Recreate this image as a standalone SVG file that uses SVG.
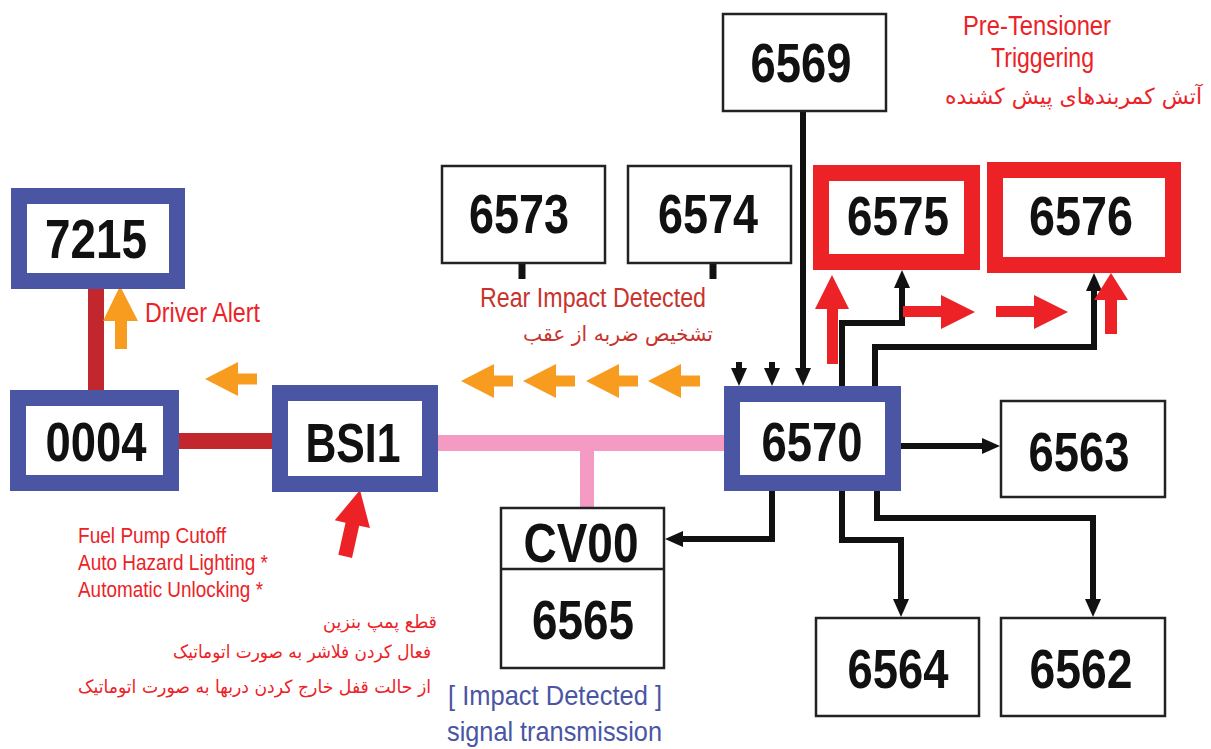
<svg xmlns="http://www.w3.org/2000/svg" width="1211" height="749" viewBox="0 0 1211 749">
<style>
.bg{fill:#fff}
.blue{fill:#fff;stroke:#4a55a4;stroke-width:16}
.redbox{fill:#fff;stroke:#ec2227;stroke-width:16}
.blk{fill:#fff;stroke:#222;stroke-width:2.5}
.num{font-family:"Liberation Sans",Arial,sans-serif;font-weight:bold;font-size:56px;fill:#111;text-anchor:middle}
.lbl{font-family:"Liberation Sans",Arial,sans-serif;font-size:27px}
.red{fill:#ec2227}
.dred{fill:#c9332d}
.bluet{fill:#4a55a4}
.fa{font-family:"DejaVu Sans","Noto Sans",sans-serif;font-size:21px;text-anchor:end}
.con{fill:none;stroke:#111;stroke-width:6}
.stub{fill:none;stroke:#111;stroke-width:7}
.bus{fill:none;stroke:#c1272d;stroke-width:16}
.pink{fill:none;stroke:#f49ac3;stroke-width:16}
.orange{fill:#f79c1e}
.rarrow{fill:#ec2227}
</style>
<defs>
<marker id="ah" viewBox="0 0 18 16" refX="2" refY="8" markerWidth="18" markerHeight="16" markerUnits="userSpaceOnUse" orient="auto">
<path d="M0,0 L18,8 L0,16 Z" fill="#111"/>
</marker>
<path id="oleft" d="M0,0 L33,-17 L33,-5.5 L52,-5.5 L52,5.5 L33,5.5 L33,17 Z"/>
</defs>
<rect class="bg" x="0" y="0" width="1211" height="749"/>

<g id="connectors">
<path class="bus" d="M96,289 V390"/>
<path class="bus" d="M179,441 H272"/>
<path class="pink" d="M438,443 H724"/>
<path class="pink" d="M587,443 V507" style="stroke-width:14"/>
<path class="stub" d="M522,264 V279"/>
<path class="stub" d="M713,264 V279"/>
<path class="con" d="M803,112 V370" marker-end="url(#ah)"/>
<path class="con" d="M739,362 V370" marker-end="url(#ah)"/>
<path class="con" d="M772,362 V370" marker-end="url(#ah)"/>
<path class="con" d="M842,386 V323 H902 V286" marker-end="url(#ah)"/>
<path class="con" d="M875,386 V347 H1094 V289" marker-end="url(#ah)"/>
<path class="con" d="M901,446 H984" marker-end="url(#ah)"/>
<path class="con" d="M772,491 V539 H681" marker-end="url(#ah)"/>
<path class="con" d="M842,491 V540 H901 V601" marker-end="url(#ah)"/>
<path class="con" d="M877,491 V518 H1093 V601" marker-end="url(#ah)"/>
</g>

<g id="arrows">
<path class="orange" d="M120,286 L138,321 L127,321 L127,349 L115,349 L115,321 L103,321 Z"/>
<use href="#oleft" class="orange" transform="translate(205,379)"/>
<use href="#oleft" class="orange" transform="translate(461,381)"/>
<use href="#oleft" class="orange" transform="translate(523,381)"/>
<use href="#oleft" class="orange" transform="translate(586,381)"/>
<use href="#oleft" class="orange" transform="translate(648,381)"/>
<path class="rarrow" d="M0,0 L18,35 L7,35 L7,68 L-7,68 L-7,35 L-18,35 Z" transform="translate(360,490) rotate(12.6)"/>
<path class="rarrow" d="M832,275 L849,309 L838,309 L838,364 L827,364 L827,309 L815,309 Z"/>
<path class="rarrow" d="M975,312 L941,295 L941,306 L903,306 L903,317 L941,317 L941,329 Z"/>
<path class="rarrow" d="M1068,312 L1034,295 L1034,306 L996,306 L996,317 L1034,317 L1034,329 Z"/>
<path class="rarrow" d="M1111,273 L1128,300 L1117,300 L1117,334 L1105,334 L1105,300 L1094,300 Z"/>
</g>

<g id="n7215"><rect class="blue" x="19" y="196" width="158" height="85"/><text class="num" x="96" y="258" textLength="102" lengthAdjust="spacingAndGlyphs">7215</text></g>
<g id="n0004"><rect class="blue" x="18" y="398" width="153" height="85"/><text class="num" x="96" y="461" textLength="101" lengthAdjust="spacingAndGlyphs">0004</text></g>
<g id="nBSI1"><rect class="blue" x="280" y="393" width="150" height="91"/><text class="num" x="353" y="462" textLength="95" lengthAdjust="spacingAndGlyphs">BSI1</text></g>
<g id="n6570"><rect class="blue" x="732" y="394" width="161" height="89"/><text class="num" x="812" y="461" textLength="101" lengthAdjust="spacingAndGlyphs">6570</text></g>
<g id="n6573"><rect class="blk" x="442" y="166" width="163" height="97"/><text class="num" x="519" y="233" textLength="100" lengthAdjust="spacingAndGlyphs">6573</text></g>
<g id="n6574"><rect class="blk" x="628" y="166" width="163" height="97"/><text class="num" x="708" y="233" textLength="100" lengthAdjust="spacingAndGlyphs">6574</text></g>
<g id="n6569"><rect class="blk" x="723" y="14" width="163" height="97"/><text class="num" x="801" y="82" textLength="101" lengthAdjust="spacingAndGlyphs">6569</text></g>
<g id="n6575"><rect class="redbox" x="821" y="173" width="151" height="89"/><text class="num" x="898" y="235" textLength="102" lengthAdjust="spacingAndGlyphs">6575</text></g>
<g id="n6576"><rect class="redbox" x="995" y="170" width="178" height="95"/><text class="num" x="1081" y="235" textLength="104" lengthAdjust="spacingAndGlyphs">6576</text></g>
<g id="n6563"><rect class="blk" x="1001" y="401" width="164" height="96"/><text class="num" x="1079" y="471" textLength="101" lengthAdjust="spacingAndGlyphs">6563</text></g>
<g id="n6564"><rect class="blk" x="816" y="618" width="163" height="98"/><text class="num" x="898" y="688" textLength="101" lengthAdjust="spacingAndGlyphs">6564</text></g>
<g id="n6562"><rect class="blk" x="1001" y="618" width="164" height="98"/><text class="num" x="1081" y="688" textLength="103" lengthAdjust="spacingAndGlyphs">6562</text></g>
<g id="nCV00"><rect class="blk" x="501" y="508" width="163" height="160"/><line x1="501" y1="569" x2="664" y2="569" stroke="#222" stroke-width="2.5"/><text class="num" x="581" y="562" textLength="115" lengthAdjust="spacingAndGlyphs">CV00</text><text class="num" x="583" y="639" textLength="102" lengthAdjust="spacingAndGlyphs">6565</text></g>

<g id="labels">
<text class="lbl red" x="145" y="322" textLength="115" lengthAdjust="spacingAndGlyphs">Driver Alert</text>
<text class="lbl dred" x="480" y="307" textLength="226" lengthAdjust="spacingAndGlyphs">Rear Impact Detected</text>
<text class="fa dred" x="713" y="341" textLength="190" lengthAdjust="spacingAndGlyphs">تشخیص ضربه از عقب</text>
<text class="lbl red" x="963" y="35" textLength="148" lengthAdjust="spacingAndGlyphs">Pre-Tensioner</text>
<text class="lbl red" x="991" y="67" textLength="103" lengthAdjust="spacingAndGlyphs">Triggering</text>
<text class="fa red" x="1202" y="104" style="font-size:22px">آتش کمربندهای پیش کشنده</text>
<text class="lbl red" x="78" y="543" style="font-size:22px" textLength="148" lengthAdjust="spacingAndGlyphs">Fuel Pump Cutoff</text>
<text class="lbl red" x="78" y="570" style="font-size:22px" textLength="190" lengthAdjust="spacingAndGlyphs">Auto Hazard Lighting *</text>
<text class="lbl red" x="78" y="597" style="font-size:22px" textLength="185" lengthAdjust="spacingAndGlyphs">Automatic Unlocking *</text>
<text class="fa red" x="437" y="628" style="font-size:18px" textLength="114" lengthAdjust="spacingAndGlyphs">قطع پمپ بنزین</text>
<text class="fa red" x="431" y="658" style="font-size:18px" textLength="258" lengthAdjust="spacingAndGlyphs">فعال کردن فلاشر به صورت اتوماتیک</text>
<text class="fa red" x="431" y="693" style="font-size:18px" textLength="353" lengthAdjust="spacingAndGlyphs">از حالت قفل خارج کردن دربها به صورت اتوماتیک</text>
<text class="lbl bluet" x="448" y="705" style="font-size:28px" textLength="214" lengthAdjust="spacingAndGlyphs">[ Impact Detected ]</text>
<text class="lbl bluet" x="447" y="741" style="font-size:28px" textLength="215" lengthAdjust="spacingAndGlyphs">signal transmission</text>
</g>
</svg>
